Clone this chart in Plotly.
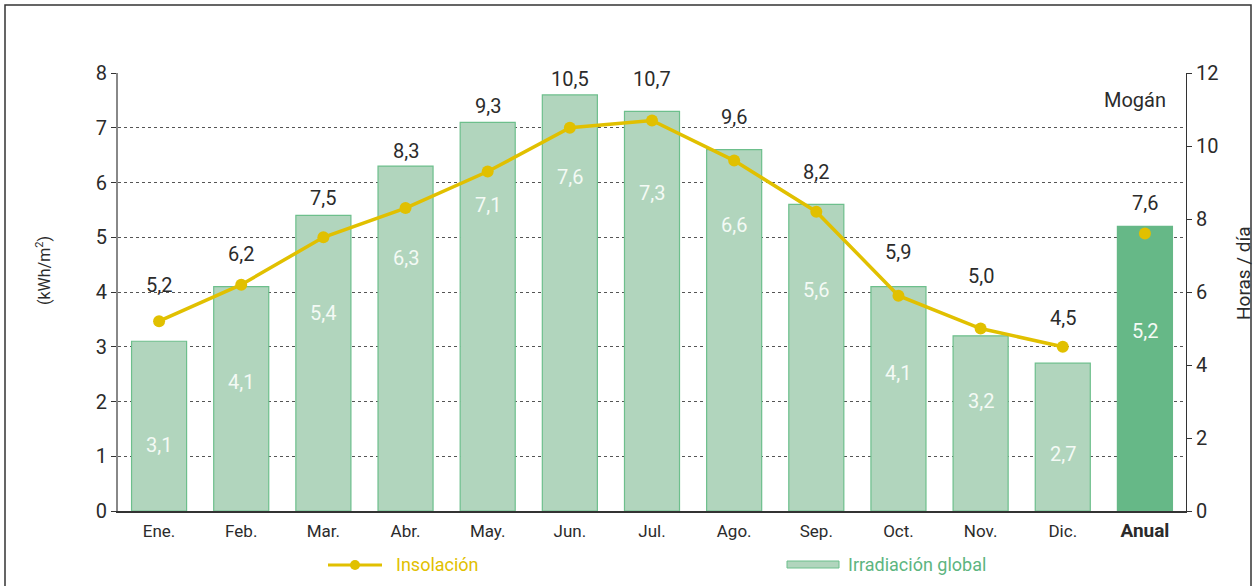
"""
Irradiación global e insolación mensual - Mogán
"""

import plotly.graph_objects as go

# ── Data ──────────────────────────────────────────────────────────────────────
MONTHS      = ["Ene.", "Feb.", "Mar.", "Abr.", "May.", "Jun.",
               "Jul.", "Ago.", "Sep.", "Oct.", "Nov.", "Dic."]
ANNUAL      = "Anual"
IRRADIATION = [3.1, 4.1, 5.4, 6.3, 7.1, 7.6, 7.3, 6.6, 5.6, 4.1, 3.2, 2.7]
IRR_ANNUAL  = 5.2
INSOLATION  = [5.2, 6.2, 7.5, 8.3, 9.3, 10.5, 10.7, 9.6, 8.2, 5.9, 5.0, 4.5]
INS_ANNUAL  = 7.6

Y_TICKS  = [0, 1, 2, 3, 4, 5, 6, 7, 8]
Y2_TICKS = [0, 2, 4, 6, 8, 10, 12]

# ── Palette ───────────────────────────────────────────────────────────────────
BAR_FILL    = "#B1D5BD"
BAR_EDGE    = "#6DBF8C"
ANNUAL_FILL = "#66B887"
YELLOW      = "#E1C000"
TEXT        = "#2B2B2B"
WHITE_TXT   = "#F4FAF5"
FONT_FAM    = "Roboto, Open Sans, sans-serif"

# label heights chosen by hand to sit clear of the line (style only)
IRR_LABEL_Y = [1.21, 2.36, 3.62, 4.62, 5.59, 6.10, 5.81, 5.22, 4.04, 2.52, 2.01, 1.04, 3.29]
INS_LABEL_Y = [6.19, 7.04, 8.58, 9.86, 11.10, 11.84, 11.84, 10.79, 9.29, 7.10, 6.44, 5.29, 8.44]

# plot area in pixels (for paper-coordinate helpers)
L, R, T, B = 118, 1186, 73, 511
W, H = R - L, B - T


def px(x):
    return (x - L) / W


def py(y):
    return (B - y) / H


cats = MONTHS + [ANNUAL]
irr_all = IRRADIATION + [IRR_ANNUAL]
ins_all = INSOLATION + [INS_ANNUAL]

fig = go.Figure()

# ── Bars ──────────────────────────────────────────────────────────────────────
fig.add_trace(go.Bar(
    x=cats,
    y=irr_all,
    marker=dict(
        color=[BAR_FILL] * len(MONTHS) + [ANNUAL_FILL],
        line=dict(color=[BAR_EDGE] * len(MONTHS) + [ANNUAL_FILL], width=1.2),
    ),
    showlegend=False,
    hoverinfo="x+y",
))

# ── Line ──────────────────────────────────────────────────────────────────────
fig.add_trace(go.Scatter(
    x=MONTHS,
    y=INSOLATION,
    yaxis="y2",
    mode="lines+markers",
    line=dict(color=YELLOW, width=3.5),
    marker=dict(color=YELLOW, size=12),
    showlegend=False,
))
fig.add_trace(go.Scatter(
    x=[ANNUAL],
    y=[INS_ANNUAL],
    yaxis="y2",
    mode="markers",
    marker=dict(color=YELLOW, size=12),
    showlegend=False,
))

# ── Value labels ──────────────────────────────────────────────────────────────
annotations = []
for c, v, ly in zip(cats, irr_all, IRR_LABEL_Y):
    annotations.append(dict(
        x=c, y=ly, xref="x", yref="y", showarrow=False,
        text=f"{v:.1f}".replace(".", ","),
        font=dict(size=20, color=WHITE_TXT, family=FONT_FAM),
    ))
for c, v, ly in zip(cats, ins_all, INS_LABEL_Y):
    annotations.append(dict(
        x=c, y=ly, xref="x", yref="y2", showarrow=False,
        text=f"{v:.1f}".replace(".", ","),
        font=dict(size=20, color=TEXT, family=FONT_FAM),
    ))


def note(x, y, text, size, color=TEXT, anchor="center", angle=0):
    return dict(x=px(x), y=py(y), xref="paper", yref="paper", showarrow=False,
                xanchor=anchor, yanchor="middle", text=text, textangle=angle,
                font=dict(size=size, color=color, family=FONT_FAM))


# titles, place name, legend texts
annotations += [
    note(43, 271, "(kWh/m<sup>2</sup>)", 16, angle=-90),
    note(1243, 273, "Horas / día", 19, angle=-90),
    note(1168, 100, "Mogán", 20, anchor="right"),
    note(394, 564, "Insolación", 18, color=YELLOW, anchor="left"),
    note(846, 564, "Irradiación global", 18, color="#5DB57F", anchor="left"),
]

shapes = [
    # outer frame
    dict(type="rect", xref="paper", yref="paper",
         x0=px(5), x1=px(1251), y0=py(600), y1=py(5),
         line=dict(color="#333333", width=1.5), fillcolor="rgba(0,0,0,0)", layer="below"),
    # legend: line swatch
    dict(type="line", xref="paper", yref="paper",
         x0=px(328), x1=px(382), y0=py(565), y1=py(565),
         line=dict(color=YELLOW, width=3)),
    dict(type="circle", xref="paper", yref="paper",
         x0=px(350), x1=px(360), y0=py(570), y1=py(560),
         line=dict(color=YELLOW, width=0), fillcolor=YELLOW),
    # legend: bar swatch
    dict(type="rect", xref="paper", yref="paper",
         x0=px(787), x1=px(839), y0=py(568), y1=py(561),
         line=dict(color=BAR_EDGE, width=1), fillcolor=BAR_FILL),
]

fig.update_layout(
    width=1256,
    height=586,
    margin=dict(l=L, r=1256 - R, t=T, b=586 - B),
    paper_bgcolor="white",
    plot_bgcolor="white",
    font=dict(family=FONT_FAM, color=TEXT),
    bargap=0.33,
    annotations=annotations,
    shapes=shapes,
    xaxis=dict(
        categoryorder="array",
        categoryarray=cats,
        range=[-0.5, len(cats) - 0.5],
        tickvals=cats,
        ticktext=MONTHS + [f"<b><span style='font-size:19px'>{ANNUAL}</span></b>"],
        tickfont=dict(size=17, color=TEXT, family=FONT_FAM),
        ticklabelstandoff=4,
        showgrid=False,
        showline=True,
        linecolor="#333333",
        linewidth=1.5,
        ticks="",
    ),
    yaxis=dict(
        range=[0, 8],
        tickvals=Y_TICKS,
        tickfont=dict(size=20, color=TEXT, family=FONT_FAM),
        showgrid=True,
        gridcolor="#555555",
        griddash="dot",
        gridwidth=1,
        zeroline=False,
        showline=True,
        linecolor="#888888",
        linewidth=2,
        ticks="outside",
        ticklen=5,
        tickcolor="#333333",
    ),
    yaxis2=dict(
        range=[0, 12],
        tickvals=Y2_TICKS,
        overlaying="y",
        side="right",
        tickfont=dict(size=20, color=TEXT, family=FONT_FAM),
        showgrid=False,
        zeroline=False,
        showline=True,
        linecolor="#333333",
        linewidth=1.2,
        ticks="outside",
        ticklen=5,
        tickcolor="#333333",
    ),
)

# drop the browser's default body margin so the figure sits at the page origin
fig.write_html(
    "out.html",
    config={"displayModeBar": False},
    post_script="document.body.style.margin='0';",
)
